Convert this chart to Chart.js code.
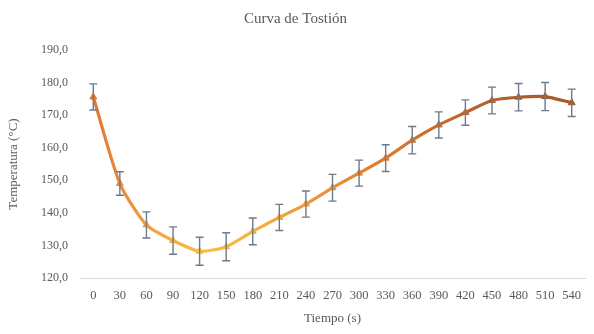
<!DOCTYPE html>
<html>
<head>
<meta charset="utf-8">
<script src="https://cdn.jsdelivr.net/npm/chart.js@4"></script>
<style>
  html, body { margin: 0; padding: 0; background: #fff; }
  #wrap { width: 594px; height: 334px; }
</style>
</head>
<body>
<div id="wrap"><canvas id="roast"></canvas></div>
<script>
/* Curva de Tostión — line with error bars */

const tiempos = ['0', '30', '60', '90', '120', '150', '180', '210', '240', '270',
                 '300', '330', '360', '390', '420', '450', '480', '510', '540'];
const temperaturas = [175.6, 149.0, 136.3, 131.5, 128.2, 129.6, 134.3, 138.6, 142.7, 147.7,
                      152.2, 156.8, 162.3, 167.0, 170.8, 174.5, 175.5, 175.7, 173.8];
const errores = [4.0, 3.6, 4.0, 4.2, 4.3, 4.3, 4.1, 4.0, 4.0, 4.1,
                 4.0, 4.1, 4.2, 4.0, 3.9, 4.1, 4.2, 4.3, 4.2];

const FONT = "'Liberation Serif', 'DejaVu Serif', serif";
const TEXT = '#595959';

// orange -> yellow -> orange -> brown along the time axis
function lineGradient(chart) {
  const area = chart.chartArea;
  if (!area) return '#e8843a';
  const g = chart.ctx.createLinearGradient(area.left, 0, area.right, 0);
  g.addColorStop(0.00, '#d8722e');
  g.addColorStop(0.08, '#ea8a3c');
  g.addColorStop(0.16, '#f2a844');
  g.addColorStop(0.24, '#f6bf3e');
  g.addColorStop(0.32, '#f5b63e');
  g.addColorStop(0.45, '#ec9a3e');
  g.addColorStop(0.60, '#dc7c32');
  g.addColorStop(0.78, '#b8622c');
  g.addColorStop(1.00, '#a4552a');
  return g;
}

const errorBars = {
  id: 'errorBars',
  afterDatasetsDraw(chart) {
    const ctx = chart.ctx;
    const meta = chart.getDatasetMeta(0);
    const y = chart.scales.y;
    ctx.save();
    ctx.strokeStyle = '#6e7b8c';
    ctx.lineWidth = 1.4;
    meta.data.forEach(function(pt, i) {
      const v = temperaturas[i];
      const top = y.getPixelForValue(v + errores[i]);
      const bot = y.getPixelForValue(v - errores[i]);
      ctx.beginPath();
      ctx.moveTo(pt.x, top); ctx.lineTo(pt.x, bot);
      ctx.moveTo(pt.x - 4, top); ctx.lineTo(pt.x + 4, top);
      ctx.moveTo(pt.x - 4, bot); ctx.lineTo(pt.x + 4, bot);
      ctx.stroke();
    });
    ctx.restore();
  },
};

new Chart(document.getElementById('roast'), {
  type: 'line',
  data: {
    labels: tiempos,
    datasets: [{
      label: 'Temperatura',
      data: temperaturas,
      borderColor: function(c) { return lineGradient(c.chart); },
      backgroundColor: function(c) { return lineGradient(c.chart); },
      pointBackgroundColor: function(c) { return lineGradient(c.chart); },
      pointBorderColor: function(c) { return lineGradient(c.chart); },
      borderWidth: 3.2,
      tension: 0.22,
      pointStyle: 'triangle',
      pointRadius: 4,
      pointBorderWidth: 1,
      fill: false,
    }],
  },
  options: {
    responsive: true,
    maintainAspectRatio: false,
    animation: false,
    layout: { padding: { left: 6, right: 9, top: 0, bottom: 0 } },
    plugins: {
      legend: { display: false },
      tooltip: { enabled: false },
      title: {
        display: true,
        text: 'Curva de Tostión',
        color: TEXT,
        font: { family: FONT, size: 15, weight: 'normal' },
        padding: { top: 10, bottom: 22 },
      },
    },
    scales: {
      x: {
        offset: true,
        grid: { display: false, drawTicks: false },
        border: { display: true, color: '#d9d9d9', width: 1 },
        ticks: {
          color: TEXT, autoSkip: false, maxRotation: 0, padding: 10,
          font: { family: FONT, size: 12.5 },
        },
        title: {
          display: true, text: 'Tiempo (s)', color: TEXT,
          font: { family: FONT, size: 13 }, padding: { top: 2, bottom: 8 },
        },
        afterFit: function(s) { s.height = 56; },
      },
      y: {
        min: 120,
        max: 190,
        grid: { display: false, drawTicks: false },
        border: { display: false },
        ticks: {
          stepSize: 10, color: TEXT, padding: 12,
          font: { family: FONT, size: 12 },
          callback: function(v) { return v.toFixed(1).replace('.', ','); },
        },
        title: {
          display: true, text: 'Temperatura (°C)', color: TEXT,
          font: { family: FONT, size: 13 }, padding: { top: 0, bottom: 4 },
        },
        afterFit: function(s) { s.width = 74; },
      },
    },
  },
  plugins: [errorBars],
});
</script>
</body>
</html>
